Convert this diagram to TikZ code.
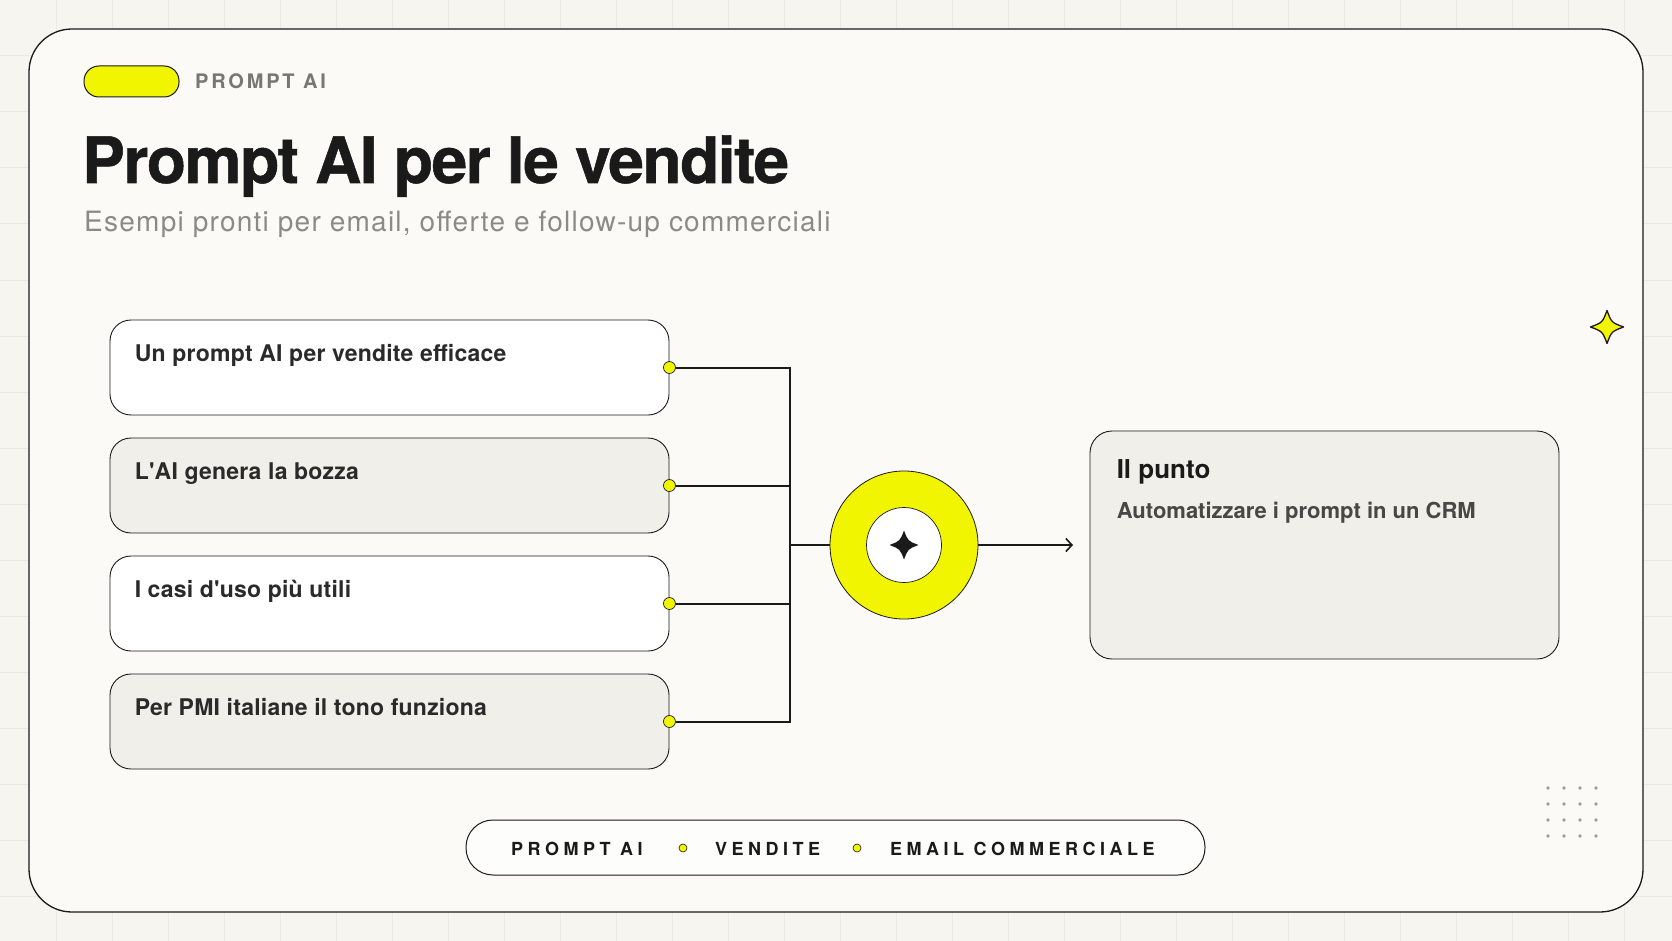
\documentclass[tikz,border=0pt]{standalone}
\usepackage{fontspec}
\setmainfont{TeX Gyre Heros}
\newfontfamily\titlefont[LetterSpace=-2.3,FakeBold=0.8]{TeX Gyre Heros}
\newfontfamily\subfont[LetterSpace=4.4]{TeX Gyre Heros}
\newfontfamily\capsfont[LetterSpace=25]{TeX Gyre Heros}
\newfontfamily\labelfont[LetterSpace=14]{TeX Gyre Heros}
\newfontfamily\boxfont[LetterSpace=1]{TeX Gyre Heros}
\usetikzlibrary{arrows.meta,calc}
\definecolor{bgc}{HTML}{F6F5F0}
\definecolor{gridc}{HTML}{EBEAE4}
\definecolor{cardc}{HTML}{FBFAF6}
\definecolor{boxgray}{HTML}{F0EFE9}
\definecolor{yel}{HTML}{F2F500}
\definecolor{ink}{HTML}{1A1A1A}
\definecolor{subgray}{HTML}{8A8A86}
\definecolor{labgray}{HTML}{777773}
\definecolor{txtdark}{HTML}{2A2A2A}
\definecolor{txtmid}{HTML}{474745}
\definecolor{dotgray}{HTML}{9A9A96}
\definecolor{pillfill}{HTML}{FDFDFB}
\begin{document}
\begin{tikzpicture}[x=1pt,y=-1pt,
  cardbox/.style={draw=ink, line width=1.3pt, fill=cardc, rounded corners=43pt, inner sep=0},
  leftbox/.style={draw=ink, line width=0.9pt, rounded corners=21pt, minimum width=559pt, minimum height=95pt, inner sep=0},
  boxtext/.style={anchor=base west, inner sep=0, text=txtdark, font=\boxfont\bfseries\fontsize{23}{27}\selectfont},
  portdot/.style={circle, draw=ink, line width=0.7pt, fill=yel, minimum size=12pt, inner sep=0},
  conn/.style={draw=ink, line width=2pt},
  pill/.style={draw=ink, line width=1pt, rounded corners=15pt, inner sep=0},
  sepdot/.style={circle, draw=ink, line width=0.6pt, fill=yel, minimum size=8pt, inner sep=0},
  pilltext/.style={anchor=base west, inner sep=0, text=ink, font=\capsfont\bfseries\fontsize{18}{22}\selectfont},
  gdot/.style={circle, fill=dotgray, minimum size=3.6pt, inner sep=0}
]
\useasboundingbox (0,0) rectangle (1672,941);
\fill[bgc] (0,0) rectangle (1672,941);
\foreach \i in {1,...,29} \draw[gridc, line width=1pt] (\i*56,0) -- (\i*56,941);
\foreach \j in {1,...,16} \draw[gridc, line width=1pt] (0,\j*56) -- (1672,\j*56);

% card
\node[cardbox, minimum width=1614pt, minimum height=883pt] (card) at (836,470.5) {};

% header
\node[pill, draw=ink, fill=yel, minimum width=95pt, minimum height=31pt] (tag) at (131.5,81.5) {};
\node[anchor=base west, inner sep=0, text=labgray, font=\labelfont\bfseries\fontsize{20}{24}\selectfont] (taglabel) at (195,89) {PROMPT AI};
\node[anchor=base west, inner sep=0, text=ink, font=\titlefont\bfseries\fontsize{64}{70}\selectfont] (title) at (82,183) {Prompt AI per le vendite};
\node[anchor=base west, inner sep=0, text=subgray, font=\subfont\fontsize{28}{32}\selectfont] (subtitle) at (84,232) {Esempi pronti per email, offerte e follow-up commerciali};

% left boxes
\node[leftbox, fill=white] (b1) at (389.5,367.5) {};
\node[leftbox, fill=boxgray] (b2) at (389.5,485.5) {};
\node[leftbox, fill=white] (b3) at (389.5,603.5) {};
\node[leftbox, fill=boxgray] (b4) at (389.5,721.5) {};
\node[boxtext] (t1) at ($(b1.north west)+(25,42)$) {Un prompt AI per vendite efficace};
\node[boxtext] (t2) at ($(b2.north west)+(25,42)$) {L'AI genera la bozza};
\node[boxtext] (t3) at ($(b3.north west)+(25,42)$) {I casi d'uso più utili};
\node[boxtext] (t4) at ($(b4.north west)+(25,42)$) {Per PMI italiane il tono funziona};

% junction and hub
\coordinate (bj) at (790,545);
\node[circle, draw=ink, line width=0.8pt, fill=yel, minimum size=148pt, inner sep=0] (hub) at (904,545) {};
\node[circle, draw=ink, line width=0.7pt, fill=white, minimum size=75pt, inner sep=0] (hubin) at (hub) {};
\fill[ink] ($(hubin)+(0,-14.5)$) .. controls ($(hubin)+(4,-4)$) .. ($(hubin)+(14.5,0)$)
  .. controls ($(hubin)+(4,4)$) .. ($(hubin)+(0,14.5)$)
  .. controls ($(hubin)+(-4,4)$) .. ($(hubin)+(-14.5,0)$)
  .. controls ($(hubin)+(-4,-4)$) .. cycle;

% connectors
\draw[conn] (b1.east) -| (bj);
\draw[conn] (b2.east) -| (bj);
\draw[conn] (b3.east) -| (bj);
\draw[conn] (b4.east) -| (bj);
\draw[conn] (bj) -- (hub.west);
\node[portdot] (d1) at (b1.east) {};
\node[portdot] (d2) at (b2.east) {};
\node[portdot] (d3) at (b3.east) {};
\node[portdot] (d4) at (b4.east) {};

% result box
\node[draw=ink, line width=0.9pt, fill=boxgray, rounded corners=22pt, minimum width=469pt, minimum height=228pt, inner sep=0] (res) at (1324.5,545) {};
\coordinate (arrowend) at (1073,545);
\draw[ink, line width=1.6pt, -{Straight Barb[length=6pt,width=13pt,line width=1.6pt]}] (hub.east) -- (arrowend);
\node[anchor=base west, inner sep=0, text=ink, font=\bfseries\fontsize{26}{30}\selectfont] (rtitle) at ($(res.north west)+(27,48)$) {Il punto};
\node[anchor=base west, inner sep=0, text=txtmid, font=\bfseries\fontsize{22}{26}\selectfont] (rtext) at ($(res.north west)+(27,88)$) {Automatizzare i prompt in un CRM};

% sparkle
\coordinate (sp) at (1607,327);
\draw[ink, line width=1.3pt, fill=yel, line join=round] ($(sp)+(0,-16.5)$) .. controls ($(sp)+(4.5,-4.5)$) .. ($(sp)+(16.5,0)$)
  .. controls ($(sp)+(4.5,4.5)$) .. ($(sp)+(0,16.5)$)
  .. controls ($(sp)+(-4.5,4.5)$) .. ($(sp)+(-16.5,0)$)
  .. controls ($(sp)+(-4.5,-4.5)$) .. cycle;

% dot grid
\foreach \i in {0,...,3} \foreach \j in {0,...,3}
  \node[gdot] (g\i\j) at (1548+\i*16,788+\j*16) {};

% bottom pill
\node[pill, fill=pillfill, rounded corners=27pt, minimum width=739pt, minimum height=55pt] (foot) at (835.5,847.5) {};
\node[pilltext] (f1) at (511,855) {PROMPT AI};
\node[sepdot] (s1) at (683,848) {};
\node[pilltext] (f2) at (715,855) {VENDITE};
\node[sepdot] (s2) at (857,848) {};
\node[pilltext] (f3) at (890,855) {EMAIL COMMERCIALE};
\end{tikzpicture}
\end{document}
